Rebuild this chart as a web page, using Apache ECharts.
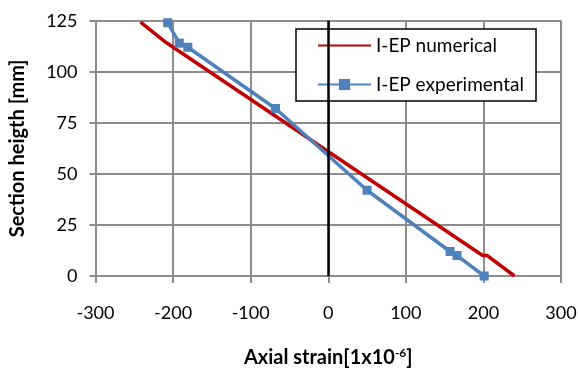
<!DOCTYPE html>
<html>
<head>
<meta charset="utf-8">
<script src="https://cdn.jsdelivr.net/npm/echarts@6/dist/echarts.min.js"></script>
<style>html,body{margin:0;padding:0;background:#fff}#c{width:578px;height:369px}</style>
</head>
<body>
<div id="c"></div>
<script>
// Data
const numericalStrain = [-242, -209, 199, 205, 240];
const numericalHeight = [124.3, 114.3, 10, 10, 0];
const experimentalStrain = [-207, -192, -181, -68, 50, 157, 166, 201];
const experimentalHeight = [124, 114, 112, 82, 42, 12, 10, 0];
const xTicks = [-300, -200, -100, 0, 100, 200, 300];
const yTicks = [0, 25, 50, 75, 100, 125];
const seriesNames = ['I-EP numerical', 'I-EP experimental'];

const FONT = 'Lato, "Liberation Sans", sans-serif';
const grid = '#8c8c8c';
const chart = echarts.init(document.getElementById('c'), null, {renderer: 'canvas'});
chart.setOption({
  animation: false,
  backgroundColor: '#fff',
  textStyle: {fontFamily: FONT},
  grid: {left: 95.5, right: 17, top: 20.7, bottom: 93, containLabel: false, outerBoundsMode: 'none'},
  legend: {
    orient: 'vertical',
    left: 296, top: 29,
    padding: [7, 12, 7, 21],
    itemWidth: 53, itemHeight: 14, itemGap: 20,
    backgroundColor: '#fff',
    borderColor: '#000', borderWidth: 1.5, borderRadius: 0,
    textStyle: {fontFamily: FONT, fontSize: 19, color: '#000'},
    data: [
      {name: seriesNames[0], itemStyle: {color: 'rgba(0,0,0,0)', borderWidth: 0}},
      {name: seriesNames[1]}
    ]
  },
  xAxis: {
    type: 'value', min: xTicks[0], max: xTicks[xTicks.length - 1], interval: 100,
    axisLine: {show: true, onZero: false, lineStyle: {color: grid, width: 2}},
    axisTick: {show: true, length: 7, lineStyle: {color: grid, width: 2}},
    axisLabel: {fontFamily: FONT, fontSize: 18, color: '#000', margin: 28},
    splitLine: {show: true, lineStyle: {color: grid, width: 2}},
    name: '{a|Axial strain[1x10}{s|-6}{a|]}',
    nameLocation: 'middle', nameGap: 71,
    nameTextStyle: {
      rich: {
        a: {fontFamily: FONT, fontSize: 20, fontWeight: 'bold', color: '#000'},
        s: {fontFamily: FONT, fontSize: 12, fontWeight: 'bold', color: '#000', verticalAlign: 'top', padding: [0, 0, 9, 0]}
      }
    }
  },
  yAxis: {
    type: 'value', min: yTicks[0], max: yTicks[yTicks.length - 1], interval: 25,
    axisLine: {show: true, onZero: false, lineStyle: {color: grid, width: 2}},
    axisTick: {show: true, length: 6, lineStyle: {color: grid, width: 2}},
    axisLabel: {fontFamily: FONT, fontSize: 18, color: '#000', margin: 18},
    splitLine: {show: true, lineStyle: {color: grid, width: 2}},
    name: 'Section heigth [mm]',
    nameLocation: 'middle', nameGap: 67.5,
    nameTextStyle: {fontFamily: FONT, fontSize: 20, fontWeight: 'bold', color: '#000'}
  },
  series: [
    {
      name: seriesNames[0], type: 'line',
      data: numericalStrain.map((x, i) => [x, numericalHeight[i]]),
      showSymbol: false, symbol: 'none',
      lineStyle: {color: '#C00000', width: 3.5},
      itemStyle: {color: '#C00000'},
      z: 3,
      markLine: {
        silent: true, symbol: 'none', label: {show: false},
        lineStyle: {color: '#000', width: 2.5, type: 'solid'},
        data: [{xAxis: 0}]
      }
    },
    {
      name: seriesNames[1], type: 'line',
      data: experimentalStrain.map((x, i) => [x, experimentalHeight[i]]),
      symbol: 'rect', symbolSize: 9,
      lineStyle: {color: '#4F81BD', width: 3.5},
      itemStyle: {color: '#4F81BD'},
      z: 4
    }
  ]
});
</script>
</body>
</html>
